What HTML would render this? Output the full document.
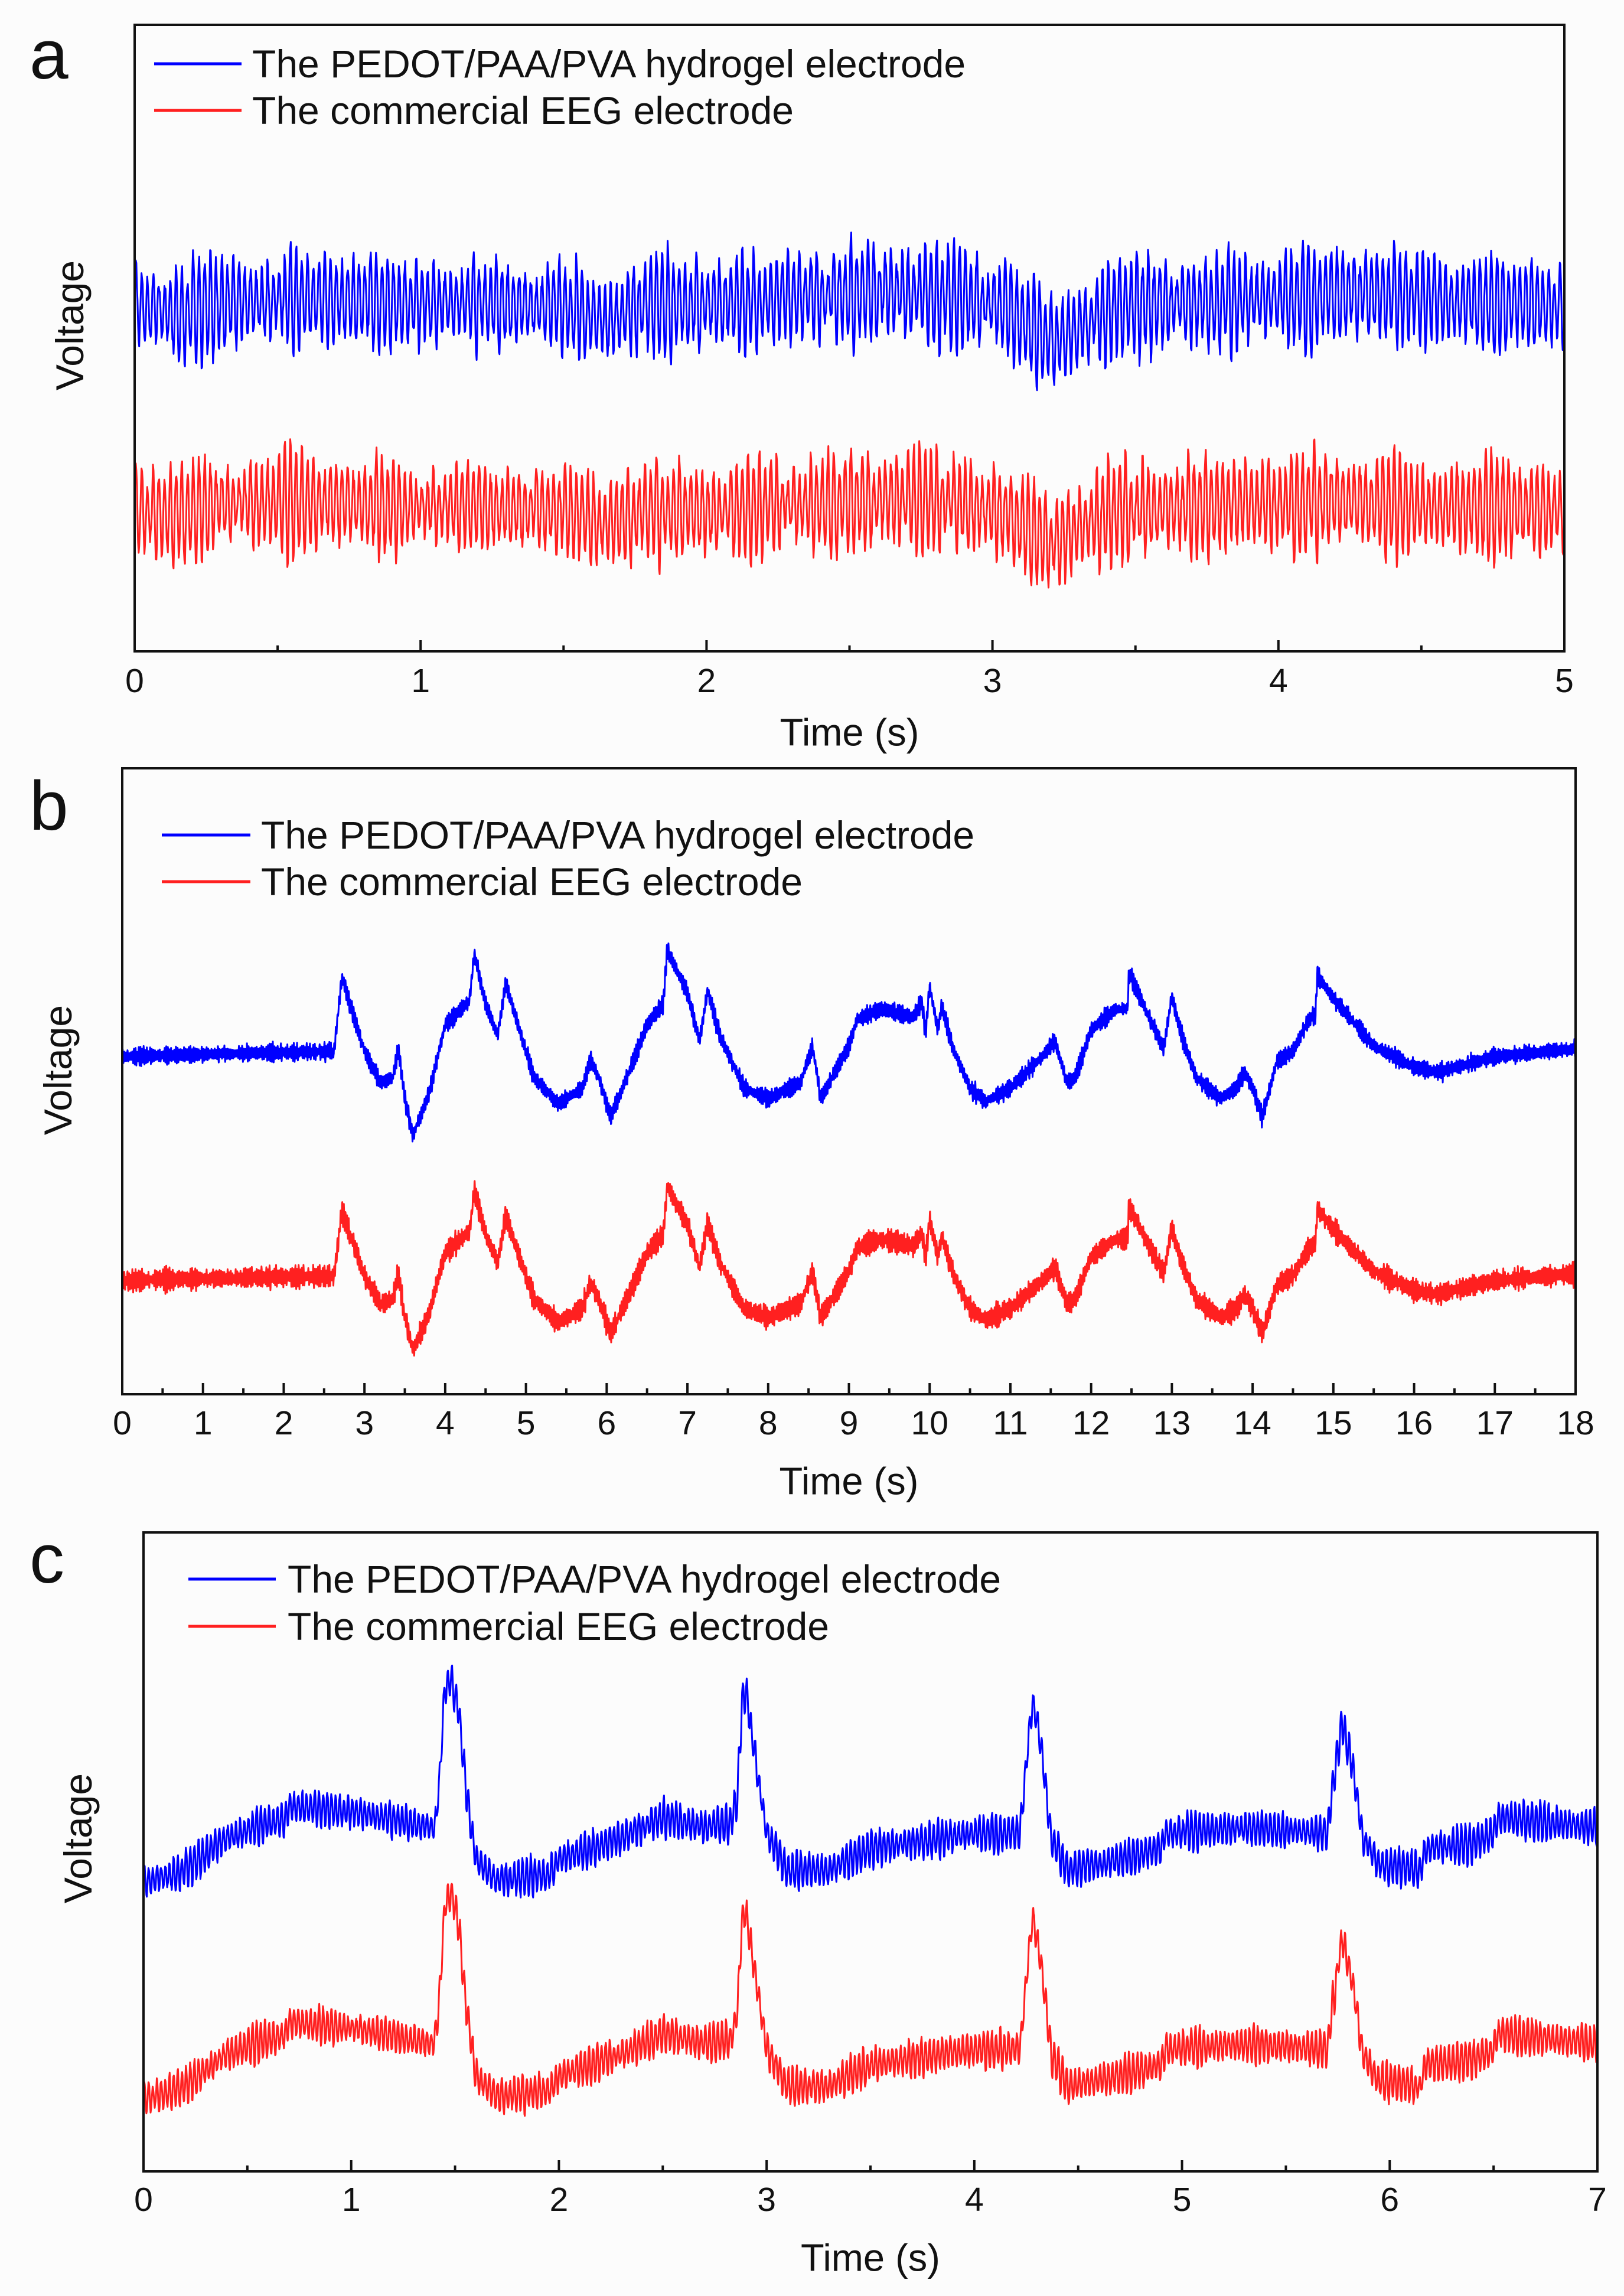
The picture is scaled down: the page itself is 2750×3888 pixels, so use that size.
<!DOCTYPE html>
<html><head><meta charset="utf-8"><style>
html,body{margin:0;padding:0;background:#fcfcfc;}
svg{display:block;font-family:"Liberation Sans",Arial,sans-serif;}
</style></head><body>
<svg id="fig" width="2750" height="3888" viewBox="0 0 2750 3888" xmlns="http://www.w3.org/2000/svg">
<rect x="0" y="0" width="2750" height="3888" fill="#fcfcfc"/>
</svg>
<script>
// ---------- Panel a data ----------
const aTime = [0,0.17,0.3,0.6,0.9,1.2,1.5,1.65,1.8,2.0,2.3,2.6,2.75,2.9,3.05,3.15,3.22,3.3,3.45,3.8,4.2,4.4,4.6,4.8,5];
const aBlue = [0,-0.1,0.05,0.15,0.05,0.05,0,-0.25,0.05,0.05,0.15,0.25,0.2,0.15,0,-0.4,-0.6,-0.35,0,0.1,0.2,0.2,0.1,0.05,0];
const aRed  = [-3.45,-3.5,-3.35,-3.3,-3.4,-3.4,-3.45,-3.7,-3.45,-3.45,-3.35,-3.3,-3.25,-3.35,-3.5,-3.85,-4.0,-3.75,-3.45,-3.35,-3.3,-3.35,-3.4,-3.4,-3.45];
const aAmp = [1.05,1.05];
const aTicks = [0,1,2,3,4,5];

// ---------- Panel b data ----------
const bTime = [0,2.6,2.62,2.72,3.0,3.2,3.35,3.42,3.5,3.6,3.8,4.0,4.2,4.3,4.36,4.5,4.65,4.75,4.9,5.1,5.4,5.7,5.8,5.9,6.05,6.3,6.5,6.7,6.75,7.0,7.15,7.25,7.4,7.7,8.0,8.4,8.55,8.65,9.0,9.1,9.4,9.8,9.9,9.95,10.0,10.1,10.15,10.3,10.5,10.7,11.0,11.4,11.55,11.7,11.8,12.0,12.3,12.45,12.47,12.7,12.9,13.0,13.1,13.3,13.6,13.8,13.9,14.0,14.12,14.3,14.5,14.7,14.78,14.8,15.0,15.5,16.0,16.3,17.0,18.0];
const bBlue = [0,0.1,0.05,1.5,0.1,-0.5,-0.4,0.15,-0.8,-1.5,-0.7,0.6,0.9,1.05,1.95,1.0,0.4,1.4,0.6,-0.4,-0.9,-0.6,-0.05,-0.4,-1.15,-0.2,0.6,1.0,2.02,1.2,0.3,1.25,0.4,-0.6,-0.8,-0.5,0.2,-0.8,0.2,0.7,0.9,0.75,1.05,0.45,1.35,0.5,0.95,0.1,-0.6,-0.85,-0.6,0,0.3,-0.5,-0.4,0.5,0.9,0.9,1.6,0.8,0.15,1.15,0.5,-0.4,-0.8,-0.6,-0.3,-0.6,-1.15,-0.1,0.1,0.7,0.8,1.55,1.1,0.2,-0.2,-0.3,0,0.15];
const bRed  = [-4.25,-4.16,-4.21,-2.93,-4.16,-4.69,-4.60,-4.12,-4.95,-5.57,-4.87,-3.72,-3.46,-3.33,-2.53,-3.37,-3.90,-3.02,-3.72,-4.60,-5.04,-4.78,-4.29,-4.60,-5.26,-4.43,-3.72,-3.37,-2.47,-3.19,-3.99,-3.15,-3.90,-4.78,-4.95,-4.69,-4.07,-4.95,-4.07,-3.63,-3.46,-3.59,-3.33,-3.85,-3.06,-3.81,-3.41,-4.16,-4.78,-5.00,-4.78,-4.25,-3.99,-4.69,-4.60,-3.81,-3.46,-3.46,-2.84,-3.55,-4.12,-3.24,-3.81,-4.60,-4.95,-4.78,-4.51,-4.78,-5.26,-4.34,-4.16,-3.63,-3.55,-2.89,-3.28,-4.07,-4.43,-4.51,-4.25,-4.12];
const bAmp = [0.2,0.25];
const bTicks = [0,1,2,3,4,5,6,7,8,9,10,11,12,13,14,15,16,17,18];

// ---------- Panel c data ----------
const cTime = [0,0.2,0.4,0.6,0.68,0.7,1.0,1.2,1.4,1.42,1.45,1.48,1.52,1.55,1.6,1.7,1.9,1.95,2.0,2.3,2.5,2.7,2.83,2.86,2.88,2.9,2.95,3.0,3.1,3.3,3.5,4.0,4.22,4.25,4.28,4.32,4.37,4.45,4.7,4.9,4.92,5.3,5.7,5.72,5.77,5.82,5.87,5.95,6.15,6.17,6.4,6.5,6.52,7.0];
const cBlue = [-0.25,0,0.6,0.9,0.95,1.2,1.1,0.95,0.8,1.4,3.4,3.6,3.0,1.6,0.2,-0.2,-0.1,-0.1,0.2,0.6,1.0,0.8,0.9,1.4,3.1,3.4,2.0,0.7,0,0,0.4,0.7,0.7,2.0,3.2,2.4,0.6,0,0.2,0.4,0.7,0.8,0.7,1.4,2.8,2.0,0.6,0.1,0,0.4,0.5,0.7,1.0,0.8];
const cRed  = [-4.35,-4.1,-3.5,-3.2,-3.15,-2.9,-3.0,-3.15,-3.3,-2.7,-0.7,-0.4,-1.1,-2.5,-3.9,-4.3,-4.2,-4.2,-3.9,-3.5,-3.1,-3.3,-3.2,-2.7,-1.0,-0.8,-2.1,-3.4,-4.1,-4.1,-3.7,-3.4,-3.4,-2.1,-0.9,-1.7,-3.5,-4.1,-3.9,-3.7,-3.4,-3.3,-3.4,-2.7,-1.3,-2.1,-3.5,-4.0,-4.1,-3.7,-3.6,-3.4,-3.1,-3.3];
const cAmp = [0.42,0.42];
const cTicks = [0,1,2,3,4,5,6,7];

const legendLabels = ["The PEDOT/PAA/PVA hydrogel electrode","The commercial EEG electrode"];
const seriesColors = ["#0000ff","#ff2020"];
const NS = "http://www.w3.org/2000/svg";
const svg = document.getElementById('fig');

function mk(tag, attrs, parent){
  const e = document.createElementNS(NS, tag);
  for (const k in attrs) e.setAttribute(k, attrs[k]);
  (parent||svg).appendChild(e);
  return e;
}
function interp(ts, vs, t){
  if (t <= ts[0]) return vs[0];
  for (let i=1;i<ts.length;i++){
    if (t <= ts[i]){ const f=(t-ts[i-1])/(ts[i]-ts[i-1]); return vs[i-1]+f*(vs[i]-vs[i-1]); }
  }
  return vs[vs.length-1];
}
function hash(n){ const h = Math.sin(n*12.9898)*43758.5453; return h - Math.floor(h); }
// deterministic texture for 50 Hz interference riding on the signal
function texture(t, seed, irr){
  const j = hash(Math.floor(t*50)+seed);
  const j2 = hash(Math.floor(t*400)+seed*3);
  return Math.sin(2*Math.PI*50*t) * ((1-irr) + irr*j) * (0.85+0.15*Math.sin(2*Math.PI*3.1*t+seed)) + 0.25*(j2-0.5);
}

function panel(p){
  const g = mk('g', {});
  
  
  const xS = t => p.L + (t - p.x0)/(p.x1 - p.x0)*(p.R - p.L);
  const yS = v => p.y0 - v*p.k;
  const clipId = 'clip' + p.id;
  const cp = mk('clipPath', {id: clipId}, g);
  mk('rect', {x:p.L, y:p.T, width:p.R-p.L, height:p.B-p.T}, cp);
  const series = [p.blue, p.red];
  series.forEach((vals, si) => {
    let d = '';
    const step = 1/p.rate;
    for (let t=p.x0; t<=p.x1+1e-9; t+=step){
      const v = interp(p.time, vals, t) + p.amp[si]*texture(t, si*7+3, p.irr);
      d += (d ? 'L' : 'M') + xS(t).toFixed(1) + ' ' + yS(v).toFixed(1);
    }
    const path = mk('path', {d:d, fill:'none', stroke:seriesColors[si], 'stroke-width':p.sw, 'stroke-linejoin':'round', 'clip-path':'url(#'+clipId+')'}, g);
    
    
  });
  const fr = mk('rect', {x:p.L, y:p.T, width:p.R-p.L, height:p.B-p.T, fill:'none', stroke:'#111', 'stroke-width':4}, g);
  
  
  p.ticks.forEach((tv, i) => {
    const x = xS(tv);
    const tk = mk('line', {x1:x, x2:x, y1:p.B, y2:p.B-19, stroke:'#111', 'stroke-width':4}, g);
    
    
    const lb = mk('text', {x:x, y:p.tickY, 'font-size':57, 'text-anchor':'middle', 'dominant-baseline':'central', fill:'#111'}, g);
    lb.textContent = String(tv);
    
    
    if (i < p.ticks.length-1){
      const xm = xS((tv + p.ticks[i+1])/2);
      const mt = mk('line', {x1:xm, x2:xm, y1:p.B, y2:p.B-10, stroke:'#111', 'stroke-width':4}, g);
      
      
    }
  });
  const xt = mk('text', {x:(p.L+p.R)/2, y:p.titleY, 'font-size':65, 'text-anchor':'middle', 'dominant-baseline':'central', fill:'#111'}, g);
  xt.textContent = 'Time (s)';
  
  
  const yt = mk('text', {x:p.vx, y:p.vy, 'font-size':66, 'text-anchor':'middle', 'dominant-baseline':'central', fill:'#111', transform:'rotate(-90 '+p.vx+' '+p.vy+')'}, g);
  yt.textContent = 'Voltage';
  
  
  const pl = mk('text', {x:p.lx, y:p.ly, 'font-size':118, fill:'#111'}, g);
  pl.textContent = p.id;
  
  
  p.legY.forEach((ly, i) => {
    const ln = mk('line', {x1:p.legX0, x2:p.legX1, y1:ly, y2:ly, stroke:seriesColors[i], 'stroke-width':5}, g);
    
    
    const tx = mk('text', {x:p.legT, y:ly, 'font-size':66, 'dominant-baseline':'central', fill:'#111'}, g);
    tx.textContent = legendLabels[i];
    
    
  });
}

panel({id:'a', L:228, T:42, R:2649, B:1103, x0:0, x1:5, y0:520, k:100, time:aTime, blue:aBlue, red:aRed, amp:aAmp, ticks:aTicks, rate:500, sw:3, irr:0.5,
  tickY:1153, titleY:1240, vx:118, vy:551, lx:50, ly:133, legY:[108,187], legX0:261, legX1:409, legT:427});
panel({id:'b', L:207, T:1301, R:2668, B:2361, x0:0, x1:18, y0:1789, k:89.3, time:bTime, blue:bBlue, red:bRed, amp:bAmp, ticks:bTicks, rate:400, sw:3, irr:0.6,
  tickY:2410, titleY:2508, vx:98, vy:1812, lx:50, ly:1405, legY:[1414,1493], legX0:274, legX1:424, legT:442});
panel({id:'c', L:243, T:2595, R:2705, B:3677, x0:0, x1:7, y0:3166.6, k:89.3, time:cTime, blue:cBlue, red:cRed, amp:cAmp, ticks:cTicks, rate:500, sw:3, irr:0.4,
  tickY:3725, titleY:3823, vx:132, vy:3113, lx:50, ly:2680, legY:[2674,2754], legX0:319, legX1:467, legT:487});
</script>
</body></html>
